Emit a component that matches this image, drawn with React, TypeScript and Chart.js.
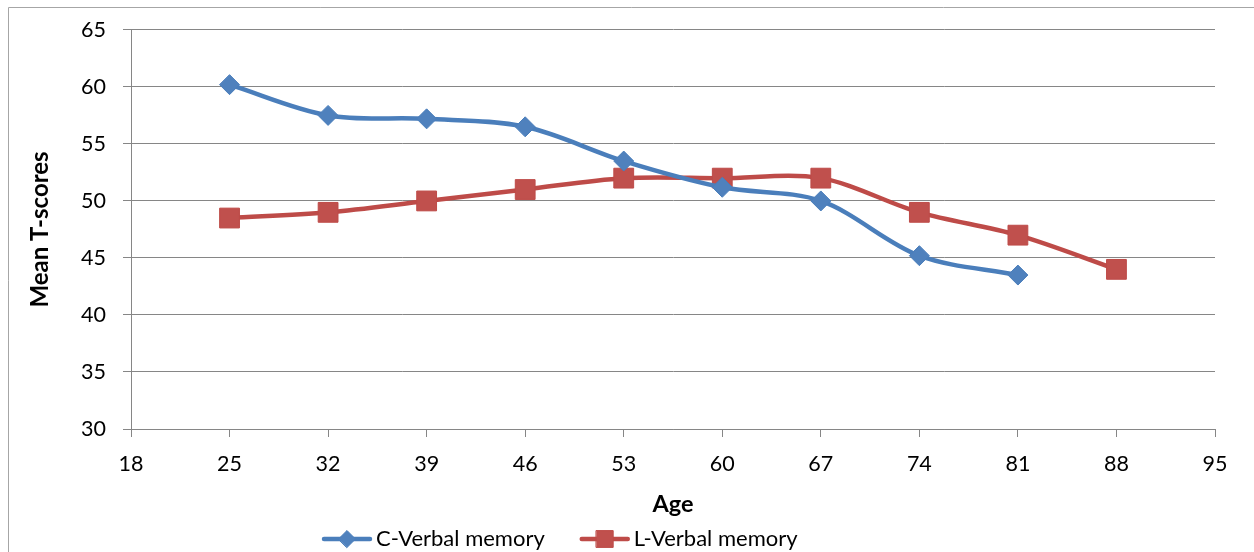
import React, { useEffect, useRef } from 'react';
import { Chart, registerables } from 'chart.js';
import { drawPoint } from 'chart.js/helpers';

Chart.register(...registerables);

// ---- data ----
const cAges = [25, 32, 39, 46, 53, 60, 67, 74, 81];
const cVerbal = [60.2, 57.5, 57.2, 56.5, 53.5, 51.2, 50.0, 45.2, 43.5];
const lAges = [25, 32, 39, 46, 53, 60, 67, 74, 81, 88];
const lVerbal = [48.5, 49.0, 50.0, 51.0, 52.0, 52.0, 52.0, 49.0, 47.0, 44.0];
const seriesNames = ['C-Verbal memory', 'L-Verbal memory'];
const xTitle = 'Age';
const yTitle = 'Mean T-scores';
const xMin = 18;
const xMax = 95;
const xStep = 7;
const yMin = 30;
const yMax = 65;
const yStep = 5;

const FONT = 'Lato, "DejaVu Sans", sans-serif';
const GRID = '#868686';

const borderPlugin = {
  id: 'outerBorder',
  beforeDraw(chart: any) {
    const ctx = chart.ctx;
    ctx.save();
    ctx.strokeStyle = '#A6A6A6';
    ctx.lineWidth = 1;
    ctx.beginPath();
    ctx.moveTo(8.5, 560);
    ctx.lineTo(8.5, 7.5);
    ctx.lineTo(1260, 7.5);
    ctx.stroke();
    ctx.restore();
  },
};

const legendPlugin = {
  id: 'excelLegend',
  afterDraw(chart: any) {
    const ctx = chart.ctx;
    ctx.save();
    ctx.font = `22px ${FONT}`;
    ctx.textBaseline = 'middle';
    ctx.textAlign = 'left';
    let x = 322;
    const y = 539;
    chart.data.datasets.forEach((ds: any) => {
      ctx.strokeStyle = ds.borderColor;
      ctx.lineWidth = ds.borderWidth;
      ctx.lineCap = 'round';
      ctx.beginPath();
      ctx.moveTo(x + 2, y);
      ctx.lineTo(x + 48, y);
      ctx.stroke();
      ctx.fillStyle = ds.pointBackgroundColor;
      ctx.strokeStyle = ds.pointBorderColor;
      ctx.lineWidth = 1;
      drawPoint(
        ctx,
        { pointStyle: ds.pointStyle, radius: ds.pointRadius * 0.85, rotation: 0, borderWidth: 1 } as any,
        x + 25,
        y
      );
      ctx.fillStyle = '#000';
      ctx.fillText(ds.label, x + 54, y);
      x += 54 + ctx.measureText(ds.label).width + 35;
    });
    ctx.restore();
  },
};

export default function App() {
  const ref = useRef<HTMLCanvasElement | null>(null);

  useEffect(() => {
    if (!ref.current) return;
    const chart = new Chart(ref.current, {
      type: 'line',
      data: {
        datasets: [
          {
            label: seriesNames[0],
            data: cAges.map((a, i) => ({ x: a, y: cVerbal[i] })),
            borderColor: '#4A7EBB',
            backgroundColor: '#4F81BD',
            pointBackgroundColor: '#4F81BD',
            pointBorderColor: '#4A7EBB',
            borderWidth: 4.5,
            pointStyle: 'rectRot',
            pointRadius: 10,
            pointBorderWidth: 1,
            tension: 0.33,
            borderCapStyle: 'round',
            borderJoinStyle: 'round',
            fill: false,
          },
          {
            label: seriesNames[1],
            data: lAges.map((a, i) => ({ x: a, y: lVerbal[i] })),
            borderColor: '#BE4B48',
            backgroundColor: '#C0504D',
            pointBackgroundColor: '#C0504D',
            pointBorderColor: '#BE4B48',
            borderWidth: 4.5,
            pointStyle: 'rect',
            pointRadius: 14,
            pointBorderWidth: 1,
            tension: 0.33,
            borderCapStyle: 'round',
            borderJoinStyle: 'round',
            fill: false,
          },
        ],
      },
      options: {
        animation: false,
        responsive: false,
        devicePixelRatio: 1,
        layout: { padding: { top: 29.5, right: 39, bottom: 0, left: 0 } },
        plugins: {
          legend: { display: false },
          tooltip: { enabled: false },
        },
        scales: {
          x: {
            type: 'linear',
            min: xMin,
            max: xMax,
            afterFit: (s: any) => {
              s.height = 123;
            },
            ticks: {
              stepSize: xStep,
              padding: 14,
              color: '#000',
              font: { family: FONT, size: 21.5 },
              maxRotation: 0,
            },
            grid: {
              drawOnChartArea: false,
              drawTicks: true,
              tickLength: 8,
              color: GRID,
              lineWidth: 1,
            },
            border: { display: true, color: GRID, width: 1 },
            title: {
              display: true,
              text: xTitle,
              color: '#000',
              font: { family: FONT, size: 23.5, weight: 'bold' },
              padding: { top: 0, bottom: 33 },
            },
          },
          y: {
            type: 'linear',
            min: yMin,
            max: yMax,
            afterFit: (s: any) => {
              s.width = 131;
            },
            ticks: {
              stepSize: yStep,
              padding: 17,
              color: '#000',
              font: { family: FONT, size: 21.5 },
            },
            grid: {
              drawOnChartArea: true,
              drawTicks: true,
              tickLength: 8,
              color: GRID,
              lineWidth: 1,
            },
            border: { display: true, color: GRID, width: 1 },
            title: {
              display: true,
              text: yTitle,
              color: '#000',
              font: { family: FONT, size: 24, weight: 'bold' },
              padding: { top: 26, bottom: 0 },
            },
          },
        },
      },
      plugins: [borderPlugin, legendPlugin],
    } as any);
    return () => chart.destroy();
  }, []);

  return (
    <div style={{ position: 'fixed', left: 0, top: 0, width: 1254, height: 552 }}>
      <canvas ref={ref} width={1254} height={552} style={{ display: 'block' }} />
    </div>
  );
}
